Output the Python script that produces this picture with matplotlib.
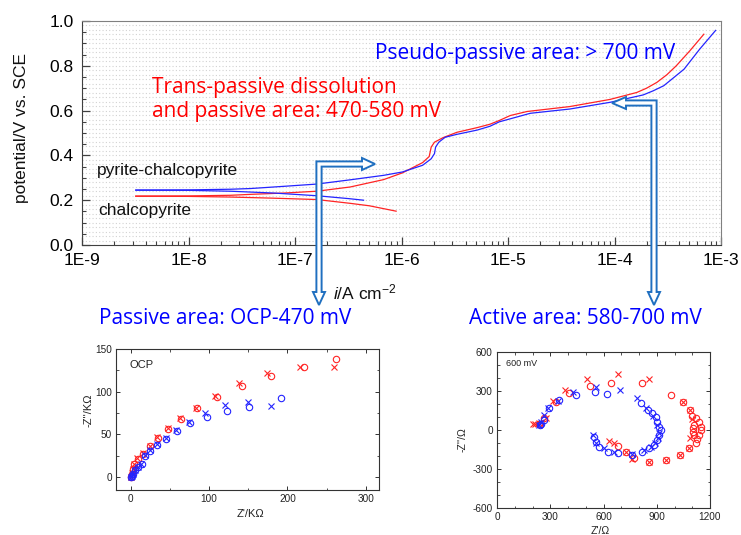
import numpy as np
import matplotlib
matplotlib.use('Agg')
import matplotlib.pyplot as plt
from matplotlib.ticker import FixedLocator, MultipleLocator, FuncFormatter, LogLocator, NullFormatter
from matplotlib.patches import Polygon

plt.rcParams['font.family'] = ['Liberation Sans', 'DejaVu Sans']
plt.rcParams['axes.unicode_minus'] = False
plt.rcParams['mathtext.fontset'] = 'custom'
plt.rcParams['mathtext.rm'] = 'Liberation Sans'
plt.rcParams['mathtext.it'] = 'Liberation Sans:italic'

# polarisation curves, current density in A/cm2, potential in V vs SCE
# pyrite-chalcopyrite (blue)
pc_cat_i = [3.2e-9, 1e-8, 2.5e-8, 6.3e-8, 1.6e-7, 3.2e-7, 4.4e-7]
pc_cat_e = [0.245, 0.244, 0.240, 0.232, 0.220, 0.207, 0.200]
pc_an_i = [3.2e-9, 1e-8, 2.5e-8, 3.8e-8, 7.9e-8, 1.6e-7, 3.3e-7, 6.8e-7, 1.02e-6,
           1.58e-6, 1.9e-6, 2.04e-6, 2.09e-6, 2.24e-6, 2.57e-6, 3.31e-6, 5.13e-6,
           6.76e-6, 8.3e-6, 1.12e-5, 1.62e-5, 3.8e-5, 9.1e-5, 1.86e-4, 2.3e-4,
           2.9e-4, 3.55e-4, 4.5e-4, 6.3e-4, 8.9e-4]
pc_an_e = [0.245, 0.246, 0.249, 0.252, 0.262, 0.272, 0.291, 0.311, 0.326,
           0.356, 0.385, 0.408, 0.437, 0.459, 0.481, 0.494, 0.513,
           0.530, 0.550, 0.567, 0.588, 0.607, 0.637, 0.670, 0.688,
           0.711, 0.745, 0.785, 0.874, 0.958]
# chalcopyrite (red)
cp_cat_i = [3.2e-9, 1e-8, 2.5e-8, 6.3e-8, 1.6e-7, 3.3e-7, 5e-7, 8.9e-7]
cp_cat_e = [0.218, 0.217, 0.214, 0.209, 0.203, 0.186, 0.175, 0.151]
cp_an_i = [3.2e-9, 1e-8, 2.5e-8, 3.8e-8, 7.9e-8, 1.6e-7, 3.3e-7, 6.8e-7, 1.02e-6,
           1.58e-6, 1.82e-6, 1.9e-6, 2.04e-6, 2.45e-6, 3.31e-6, 5.13e-6,
           6.76e-6, 8.3e-6, 1.05e-5, 1.51e-5, 3.8e-5, 9.1e-5, 1.62e-4, 2.0e-4,
           2.5e-4, 3.1e-4, 3.8e-4, 5.1e-4, 6.9e-4]
cp_an_e = [0.218, 0.219, 0.222, 0.226, 0.232, 0.240, 0.259, 0.292, 0.322,
           0.368, 0.395, 0.437, 0.459, 0.479, 0.503, 0.524,
           0.539, 0.556, 0.578, 0.596, 0.618, 0.650, 0.681, 0.700,
           0.726, 0.760, 0.800, 0.867, 0.941]

# Nyquist at OCP (kOhm)
ocp_red_o_x = [261.5, 220.8, 179.6, 142.2, 109.6, 84, 64, 48, 34.4, 24.6, 16, 8.5, 4.6, 2.6, 1.3, 0.4]
ocp_red_o_y = [138, 129.4, 118.5, 106.7, 93.4, 81.2, 68.3, 56.9, 45.9, 36.1, 27.5, 21.6, 15.6, 9.7, 4, 0]
ocp_red_x_x = [259, 215.7, 174.5, 138.3, 107.4, 83, 63, 47, 34, 24, 15.5, 8, 4.3, 2.4, 1.2, 0.3]
ocp_red_x_y = [129.4, 129.4, 121.6, 109.9, 95.3, 81.5, 68.8, 57.5, 46.5, 36.5, 28, 22, 16, 10, 4.5, 0.5]
ocp_blue_o_x = [191.5, 150.7, 122.3, 96.8, 75.5, 58.6, 45, 34, 24.6, 18.2, 14, 9.7, 5.5, 2.6, 1.3, 0.4]
ocp_blue_o_y = [92.2, 82.4, 77.6, 69.9, 63, 54.5, 45, 38, 31, 25, 15.7, 12, 8, 4, 1.6, 0]
ocp_blue_x_x = [178.7, 149.8, 120, 94.6, 74.5, 58, 44.5, 33.5, 24, 18, 13.5, 9.3, 5.2, 2.4, 1.1, 0.3]
ocp_blue_x_y = [83.5, 87.5, 84.4, 74.6, 65, 55.5, 45.5, 38.5, 31.5, 25.5, 16, 12.3, 8.2, 4.2, 1.8, 0.2]

# Nyquist at 600 mV (Ohm)
mv_red_o_x = [235, 265, 330, 404, 522, 645, 819, 982, 1050, 1087, 1100, 1119, 1138, 1147, 1147,
              1138, 1129, 1119, 1110, 1104, 1104, 1110, 1082, 1031, 951, 857, 773, 726, 679]
mv_red_o_y = [45, 95, 215, 281, 339, 364, 359, 269, 218, 154, 110, 90, 64, 26, 0,
              -38, -72, -103, 38, 13, -13, -38, -141, -192, -231, -244, -218, -169, -123]
mv_red_x_x = [200, 215, 235, 275, 313, 383, 509, 682, 857, 1050, 1087, 1100, 1085, 1082, 1031,
              951, 857, 763, 726, 660, 632]
mv_red_x_y = [50, 45, 52, 89, 222, 306, 396, 431, 392, 218, 154, 82, -60, -141, -192,
              -231, -244, -225, -169, -98, -82]
mv_blue_o_x = [240, 250, 262, 294, 348, 446, 551, 619, 810, 848, 871, 894, 904, 913, 922, 913,
               904, 885, 857, 819, 763, 679, 623, 576, 557, 544]
mv_blue_o_y = [35, 50, 80, 166, 228, 273, 293, 275, 205, 154, 128, 102, 64, 26, 0, -38,
               -77, -115, -141, -167, -192, -180, -167, -128, -90, -51]
mv_blue_x_x = [235, 248, 266, 285, 342, 427, 556, 692, 791, 840, 880, 900, 910, 905, 890,
               870, 830, 760, 660, 600, 560, 539]
mv_blue_x_y = [40, 60, 115, 170, 222, 293, 331, 308, 244, 170, 110, 40, -20, -60, -100,
               -130, -155, -185, -170, -140, -100, -38]

RED = '#ff2424'
BLUE = '#2424ff'
ARROW = '#1f6fc0'

W, H = 741, 535
fig = plt.figure(figsize=(W / 100, H / 100), dpi=100)


def fbox(l, t, r, b):
    return [l / W, 1 - b / H, (r - l) / W, (b - t) / H]


# ---- main polarisation plot
ax = fig.add_axes(fbox(82, 21, 721, 245))
ax.set_xscale('log')
ax.set_xlim(1e-9, 1e-3)
ax.set_ylim(0, 1.0)
for y in np.arange(0.02, 0.999, 0.02):
    ax.axhline(y, color='#d2d2d2', lw=0.8, ls=(0, (1, 2)), zorder=0)
ax.plot(cp_cat_i, cp_cat_e, color=RED, lw=0.9)
ax.plot(cp_an_i, cp_an_e, color=RED, lw=0.9)
ax.plot(pc_cat_i, pc_cat_e, color=BLUE, lw=0.9)
ax.plot(pc_an_i, pc_an_e, color=BLUE, lw=0.9)

ax.xaxis.set_major_locator(FixedLocator([10.0 ** k for k in range(-9, -2)]))
ax.xaxis.set_major_formatter(FuncFormatter(lambda v, p: '1E%d' % round(np.log10(v))))
ax.xaxis.set_minor_locator(LogLocator(base=10, subs=np.arange(2, 10), numticks=20))
ax.xaxis.set_minor_formatter(NullFormatter())
ax.yaxis.set_major_locator(MultipleLocator(0.2))
ax.yaxis.set_minor_locator(MultipleLocator(0.05))
ax.yaxis.set_major_formatter(FuncFormatter(lambda v, p: '%.1f' % v))
ax.tick_params(which='both', direction='in', top=False, right=False,
               labelsize=12.5, color='#404040', pad=6)
ax.tick_params(which='major', length=5.5, width=0.9)
ax.tick_params(which='minor', length=3, width=0.8)
for s in ['left', 'bottom']:
    ax.spines[s].set_color('#404040')
for s in ['top', 'right']:
    ax.spines[s].set_color('#808080')


# ---- insets
def inset(box, xlim, ylim, xmaj, xmin, ymaj, ymin):
    a = fig.add_axes(fbox(*box))
    a.set_xlim(*xlim)
    a.set_ylim(*ylim)
    a.xaxis.set_major_locator(MultipleLocator(xmaj))
    a.xaxis.set_minor_locator(MultipleLocator(xmin))
    a.yaxis.set_major_locator(MultipleLocator(ymaj))
    a.yaxis.set_minor_locator(MultipleLocator(ymin))
    a.xaxis.set_major_formatter(FuncFormatter(lambda v, p: '%d' % v))
    a.yaxis.set_major_formatter(FuncFormatter(lambda v, p: '%d' % v))
    a.tick_params(which='both', direction='in', top=True, right=True,
                  labelsize=7.2, color='#333333', labelcolor='#222222', pad=3)
    a.tick_params(which='major', length=3, width=0.7)
    a.tick_params(which='minor', length=1.8, width=0.6)
    for s in a.spines.values():
        s.set_color('#333333')
        s.set_linewidth(0.8)
    return a


mk = dict(ls='none', ms=4.6, mew=0.8)
a1 = inset((116, 349, 379, 490), (-19, 317), (-15, 150), 100, 50, 50, 25)
a1.plot(ocp_red_o_x, ocp_red_o_y, marker='o', mfc='none', mec=RED, **mk)
a1.plot(ocp_red_x_x, ocp_red_x_y, marker='x', mec=RED, **mk)
a1.plot(ocp_blue_o_x, ocp_blue_o_y, marker='o', mfc='none', mec=BLUE, **mk)
a1.plot(ocp_blue_x_x, ocp_blue_x_y, marker='x', mec=BLUE, **mk)

a2 = inset((497, 352, 710, 508), (0, 1200), (-600, 600), 300, 100, 300, 100)
a2.plot(mv_red_o_x, mv_red_o_y, marker='o', mfc='none', mec=RED, **mk)
a2.plot(mv_red_x_x, mv_red_x_y, marker='x', mec=RED, **mk)
a2.plot(mv_blue_o_x, mv_blue_o_y, marker='o', mfc='none', mec=BLUE, **mk)
a2.plot(mv_blue_x_x, mv_blue_x_y, marker='x', mec=BLUE, **mk)

# ---- overlay for annotations, in pixel coordinates
ov = fig.add_axes([0, 0, 1, 1], zorder=10)
ov.set_xlim(0, W)
ov.set_ylim(H, 0)
ov.axis('off')
ov.patch.set_alpha(0)

w, hw, hl = 2.6, 6, 13
cx, cy = 319, 164
arrow1 = [(cx - w, cy - w), (362, cy - w), (362, cy - hw), (375, cy), (362, cy + hw),
          (362, cy + w), (cx + w, cy + w), (cx + w, 305 - hl), (cx + hw, 305 - hl),
          (cx, 305), (cx - hw, 305 - hl), (cx - w, 305 - hl)]
cx, cy = 654, 103
arrow2 = [(cx + w, cy - w), (cx + w, 305 - hl), (cx + hw, 305 - hl), (cx, 305),
          (cx - hw, 305 - hl), (cx - w, 305 - hl), (cx - w, cy + w), (626, cy + w),
          (626, cy + hw), (612, cy), (626, cy - hw), (626, cy - w)]
for pts in (arrow1, arrow2):
    ov.add_patch(Polygon(pts, closed=True, fc='white', ec=ARROW, lw=1.4, joinstyle='miter'))

cal = ['Open Sans', 'DejaVu Sans']
big = 15
ov.text(375, 53, 'Pseudo-passive area: > 700 mV', color='#0000ff', fontsize=big,
        family=cal, ha='left', va='center')
ov.text(152, 87, 'Trans-passive dissolution', color='#ff0000', fontsize=big,
        family=cal, ha='left', va='center')
ov.text(152, 111, 'and passive area: 470-580 mV', color='#ff0000', fontsize=big,
        family=cal, ha='left', va='center')
ov.text(99, 318, 'Passive area: OCP-470 mV', color='#0000ff', fontsize=big,
        family=cal, ha='left', va='center')
ov.text(469, 318, 'Active area: 580-700 mV', color='#0000ff', fontsize=big,
        family=cal, ha='left', va='center')

ov.text(97, 171, 'pyrite-chalcopyrite', fontsize=12.5, ha='left', va='center', color='#111111')
ov.text(98, 211, 'chalcopyrite', fontsize=12.5, ha='left', va='center', color='#111111')
ov.text(22, 128, 'potential/V vs. SCE', fontsize=12.5, rotation=90, ha='center', va='center',
        color='#111111')
ov.text(333, 292, r'$\it{i}$/A cm$^{-2}$', fontsize=12.5, ha='left', va='center', color='#111111')

ov.text(129, 365, 'OCP', fontsize=8, ha='left', va='center', color='#222222')
ov.text(506, 364, '600 mV', fontsize=6.5, ha='left', va='center', color='#222222')
ov.text(89, 410, "-Z''/K\u03a9", fontsize=8, rotation=90, ha='center', va='center', color='#222222')
ov.text(250, 514, "Z'/K\u03a9", fontsize=8, ha='center', va='center', color='#222222')
ov.text(463, 440, "-Z''/\u03a9", fontsize=7.5, rotation=90, ha='center', va='center', color='#222222')
ov.text(600, 531, "Z'/\u03a9", fontsize=7.5, ha='center', va='center', color='#222222')

fig.savefig('out.png', dpi=100)
